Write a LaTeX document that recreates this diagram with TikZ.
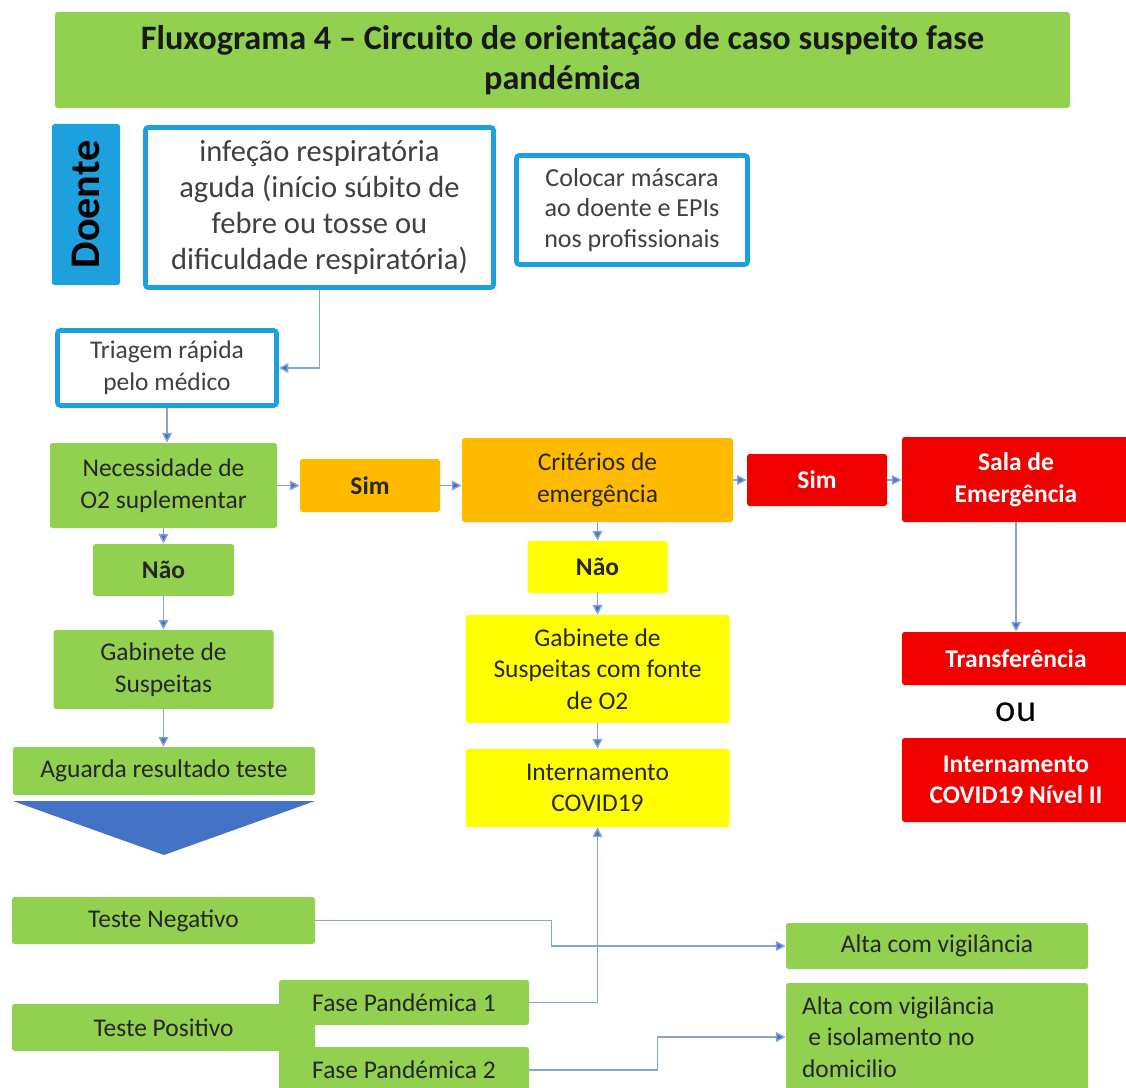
\documentclass[tikz,border=0pt]{standalone}
\usepackage{fontspec}
\setmainfont{Carlito}
\usetikzlibrary{arrows.meta}

\definecolor{fluxgreen}{HTML}{92D050}
\definecolor{fluxorange}{HTML}{FFBA00}
\definecolor{fluxred}{HTML}{F20000}
\definecolor{fluxyellow}{HTML}{FFFF00}
\definecolor{fluxblue}{HTML}{1CA0DE}
\definecolor{linkblue}{HTML}{4472C4}

\begin{document}
\begin{tikzpicture}[
    x=0.02cm, y=-0.02cm,
    boxsize/.style 2 args={minimum width=#1*0.02cm, minimum height=#2*0.02cm},
    box/.style={inner sep=0pt, rounded corners=1.5pt, align=center, font=\fontsize{14.5}{18}\selectfont},
    greenbox/.style={box, fill=fluxgreen, text=black!85},
    orangebox/.style={box, fill=fluxorange, text=black!85},
    yellowbox/.style={box, fill=fluxyellow, text=black!85},
    redbox/.style={box, fill=fluxred, text=white, font=\fontsize{14.5}{18}\selectfont\bfseries},
    bluebox/.style={box, draw=fluxblue, line width=2.6pt, fill=white, text=black!75},
    link/.style={draw=linkblue!65, line width=0.8pt, -{Triangle[length=5.5pt,width=5.5pt,fill=linkblue]}}
]
\useasboundingbox (0,0) rectangle (1126,1088);

% titulo
\node[greenbox, boxsize={1015}{96}, font=\fontsize{19.5}{22.8}\selectfont\bfseries, text=black!90] (title) at (562.5,60)
    {Fluxograma 4 -- Circuito de orientação de caso suspeito fase\\pandémica};

% doente e primeiras caixas
\node[box, fill=fluxblue, boxsize={68}{161},
    label={[rotate=90, font=\fontsize{24}{26}\selectfont\bfseries, text=black]center:Doente}] (doente) at (86,204.5) {};
\node[bluebox, boxsize={348}{160}, font=\fontsize{17.4}{20.5}\selectfont] (infecao) at (319.5,207.5)
    {infeção respiratória\\aguda (início súbito de\\febre ou tosse ou\\dificuldade respiratória)};
\node[bluebox, boxsize={231}{109}, font=\fontsize{14.8}{17.5}\selectfont] (mascara) at (632,210)
    {Colocar máscara\\ao doente e EPIs\\nos profissionais};
\node[bluebox, boxsize={219}{75}] (triagem) at (167,368) {Triagem rápida\\pelo médico};

% coluna verde
\node[greenbox, boxsize={227}{85}] (necess) at (163.5,485.5) {Necessidade de\\O2 suplementar};
\node[greenbox, boxsize={141}{52}] (naoG) at (163.5,570) {\textbf{Não}};
\node[greenbox, boxsize={220}{79}] (gabinete) at (163.5,669.5) {Gabinete de\\Suspeitas};
\node[greenbox, boxsize={302}{48}] (aguarda) at (164,771) {Aguarda resultado teste};
\fill[linkblue] (13,801) -- (315,801) -- (164,855) -- cycle;

% coluna amarela
\node[orangebox, boxsize={140}{53}] (sim1) at (370,485.5) {\textbf{Sim}};
\node[orangebox, boxsize={271}{84}] (crit) at (597.5,480) {Critérios de\\emergência};
\node[yellowbox, boxsize={140}{52}] (naoY) at (597.5,567) {\textbf{Não}};
\node[yellowbox, boxsize={264}{108}] (gabO2) at (597.5,669) {Gabinete de\\Suspeitas com fonte\\de O2};
\node[yellowbox, boxsize={264}{78}] (intern1) at (597.5,788) {Internamento\\COVID19};

% coluna vermelha
\node[redbox, boxsize={140}{52}] (sim2) at (817,480) {Sim};
\node[redbox, boxsize={228}{85}] (sala) at (1016,479.5) {Sala de\\Emergência};
\node[redbox, boxsize={228}{53}] (transf) at (1016,658.5) {Transferência};
\node[font=\fontsize{22}{26}\selectfont, text=black] (ou) at (1016,712) {ou};
\node[redbox, boxsize={228}{84}] (intern2) at (1016,780) {Internamento\\COVID19 Nível II};

% resultados do teste
\node[greenbox, boxsize={303}{47}] (negativo) at (163.5,920.5) {Teste Negativo};
\node[greenbox, boxsize={303}{47}] (positivo) at (163.5,1027.5) {Teste Positivo};
\node[greenbox, boxsize={250}{45}] (fase1) at (404,1002.5) {Fase Pandémica 1};
\node[greenbox, boxsize={250}{46}] (fase2) at (404,1070) {Fase Pandémica 2};
\node[greenbox, boxsize={302}{46}] (alta1) at (937,946) {Alta com vigilância};
\node[greenbox, boxsize={302}{108}, text width=5.4cm, align=flush left] (alta2) at (937,1037)
    {Alta com vigilância\\\hspace*{0.25em}e isolamento no\\domicilio};

% ligacoes
\draw[link] (infecao.south) |- (triagem.east);
\draw[link] (triagem.south) -- (triagem.south |- necess.north);
\draw[link] (necess.south) -- (naoG.north);
\draw[link] (naoG.south) -- (gabinete.north);
\draw[link] (gabinete.south) -- (gabinete.south |- aguarda.north);
\draw[link] (necess.east) -- (sim1.west);
\draw[link] (sim1.east) -- (sim1.east -| crit.west);
\draw[link] (crit.east) -- (sim2.west);
\draw[link] (sim2.east) -- (sim2.east -| sala.west);
\draw[link] (sala.south) -- (transf.north);
\draw[link] (crit.south) -- (naoY.north);
\draw[link] (naoY.south) -- (gabO2.north);
\draw[link] (gabO2.south) -- (intern1.north);
\draw[link] (fase1.east) -| (intern1.south);
\draw[link] (negativo.east) -- ++(236,0) |- (alta1.west);
\draw[link] (fase2.east) -- ++(128,0) |- (alta2.west);

\end{tikzpicture}
\end{document}
